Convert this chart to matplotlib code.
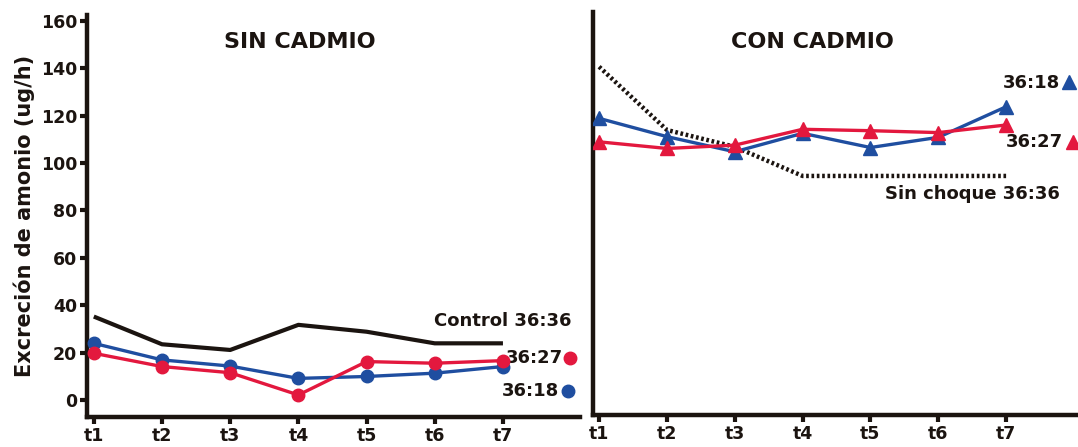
import matplotlib
matplotlib.use("Agg")
import matplotlib.pyplot as plt

# Sampling times
times = ["t1", "t2", "t3", "t4", "t5", "t6", "t7"]

# Without cadmium (ug/h)
control_36_36 = [35.2, 23.5, 21.1, 31.7, 28.8, 23.9, 23.9]
sin_36_18 = [23.9, 16.9, 14.3, 9.1, 9.9, 11.3, 14.1]
sin_36_27 = [19.7, 14.1, 11.5, 2.1, 16.2, 15.5, 16.6]

# With cadmium (ug/h)
sin_choque_36_36 = [140.7, 114.0, 106.9, 94.6, 94.6, 94.6, 94.6]
con_36_18 = [118.9, 111.2, 104.8, 112.6, 106.6, 110.9, 123.8]
con_36_27 = [109.0, 106.2, 107.6, 114.3, 113.7, 112.9, 116.1]

y_ticks = [0, 20, 40, 60, 80, 100, 120, 140, 160]

BLUE = "#1f4ea0"
RED = "#e3183e"
INK = "#1b1410"

plt.rcParams["font.family"] = ["DejaVu Sans"]
plt.rcParams["font.weight"] = "bold"

fig = plt.figure(figsize=(10.78, 4.47), dpi=100)
W, H = 1078, 447


def px_axes(x0, x1, ytop, ybot):
    return fig.add_axes([x0 / W, (H - ybot) / H, (x1 - x0) / W, (ybot - ytop) / H])


ax1 = px_axes(87, 580, 15, 417)
ax2 = px_axes(593, 1078, 12, 415)

x = list(range(len(times)))

for ax in (ax1, ax2):
    ax.set_xticks(x)
    ax.set_xticklabels(times, fontsize=12.5, fontweight="bold", color=INK)
    for s in ("top", "right"):
        ax.spines[s].set_visible(False)
    for s in ("left", "bottom"):
        ax.spines[s].set_linewidth(3.2)
        ax.spines[s].set_color(INK)
    ax.tick_params(axis="x", length=5, width=3, color=INK, pad=2)
    ax.patch.set_alpha(0)

ax1.set_ylim(-7.2, 162.5)
ax2.set_ylim(-6.3, 163.8)
ax1.set_xlim(-0.1, 7.13)
ax2.set_xlim(-0.09, 7.06)

ax1.set_yticks(y_ticks)
ax1.set_yticklabels([str(v) for v in y_ticks], fontsize=12.5, fontweight="bold", color=INK)
ax1.tick_params(axis="y", length=5, width=3, color=INK, pad=2)
ax1.set_ylabel("Excreción de amonio (ug/h)", fontsize=15, fontweight="bold", color=INK, labelpad=4)
ax2.set_yticks([])

# Left panel: without cadmium
ax1.plot(x, control_36_36, color=INK, lw=3, solid_capstyle="butt", zorder=2)
ax1.plot(x, sin_36_18, color=BLUE, lw=2.4, marker="o", ms=9, zorder=3)
ax1.plot(x, sin_36_27, color=RED, lw=2.4, marker="o", ms=9, zorder=4)
fig.text(300 / W, 1 - 42 / H, "SIN CADMIO", fontsize=16, fontweight="bold", color=INK,
         ha="center", va="center")

ax1.text(7.01, 33.3, "Control 36:36", fontsize=13, fontweight="bold",
         color=INK, ha="right", va="center")
ax1.text(6.46, 17.5, "36:27", fontsize=13, fontweight="bold", color=INK, ha="center", va="center")
ax1.plot([6.99], [17.5], marker="o", ms=9, color=RED, clip_on=False)
ax1.text(6.40, 3.9, "36:18", fontsize=13, fontweight="bold", color=INK, ha="center", va="center")
ax1.plot([6.96], [3.9], marker="o", ms=9, color=BLUE, clip_on=False)

# Right panel: with cadmium
ax2.plot(x, sin_choque_36_36, color=INK, lw=3.2, linestyle=(0, (0.6, 0.6)), zorder=2)
ax2.plot(x, con_36_18, color=BLUE, lw=2.4, marker="^", ms=10, zorder=3)
ax2.plot(x, con_36_27, color=RED, lw=2.4, marker="^", ms=10, zorder=4)
fig.text(812 / W, 1 - 42 / H, "CON CADMIO", fontsize=16, fontweight="bold", color=INK,
         ha="center", va="center")

ax2.text(6.37, 133.8, "36:18", fontsize=13, fontweight="bold", color=INK, ha="center", va="center")
ax2.plot([6.93], [134.2], marker="^", ms=10, color=BLUE, clip_on=False)
ax2.text(6.42, 108.9, "36:27", fontsize=13, fontweight="bold", color=INK, ha="center", va="center")
ax2.plot([6.99], [108.9], marker="^", ms=10, color=RED, clip_on=False)
ax2.text(6.8, 87.0, "Sin choque 36:36", fontsize=13, fontweight="bold", color=INK,
         ha="right", va="center")

fig.savefig("out.png", dpi=100)
